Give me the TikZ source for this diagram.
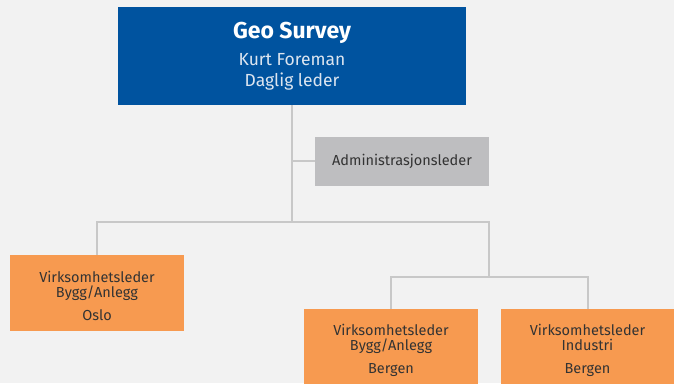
\documentclass[tikz,border=0pt]{standalone}
\usepackage{fontspec}
\setmainfont{Fira Sans}
\definecolor{bg}{HTML}{F2F2F2}
\definecolor{topblue}{HTML}{00539F}
\definecolor{subwhite}{HTML}{DCE5F0}
\definecolor{admgray}{HTML}{BEBEC0}
\definecolor{orangebox}{HTML}{F79A50}
\definecolor{linegray}{HTML}{C8C8C8}
\definecolor{darktext}{HTML}{333333}
\newcommand{\unittext}[1]{\rule{0pt}{18pt}#1}
\tikzset{
  orgbox/.style={rectangle, inner sep=0pt, minimum width=174pt, align=center},
  topbox/.style={orgbox, fill=topblue, minimum width=348pt, minimum height=98pt, text=subwhite, font=\fontsize{17.5}{21}\selectfont},
  admbox/.style={orgbox, fill=admgray, minimum height=49pt, text=darktext, font=\fontsize{14.5}{15}\selectfont},
  unitbox/.style={orgbox, fill=orangebox, minimum height=76pt, text=darktext, font=\fontsize{14.5}{15}\selectfont},
  conn/.style={draw=linegray, line width=2pt}
}
\begin{document}
\begin{tikzpicture}[x=1pt,y=-1pt]
\fill[bg] (0,0) rectangle (674,383);
\useasboundingbox (0,0) rectangle (674,383);
\clip (0,0) rectangle (674,383);
\node[topbox] (top) at (292,56) {{\color{white}\fontsize{23}{24}\selectfont\bfseries Geo Survey}\\[6pt]
  Kurt Foreman\\
  Daglig leder};
\node[admbox] (admin) at (402,161) {Administrasjonsleder};
\node[unitbox] (oslo) at (97,293) {\unittext{Virksomhetsleder}\\Bygg/Anlegg\\[8pt]Oslo};
\node[unitbox] (bergen) at (391,347) {\unittext{Virksomhetsleder}\\Bygg/Anlegg\\[8pt]Bergen};
\node[unitbox] (industri) at (587.5,347) {\unittext{Virksomhetsleder}\\Industri\\[8pt]Bergen};
\coordinate (j1) at (292,222);
\coordinate (j2) at (489,277);
\draw[conn] (top.south) -- (j1);
\draw[conn] (top.south |- admin.west) -- (admin.west);
\draw[conn] (oslo.north) |- (j1) -| (j2);
\draw[conn] (bergen.north) |- (j2) -| (industri.north);
\end{tikzpicture}
\end{document}
